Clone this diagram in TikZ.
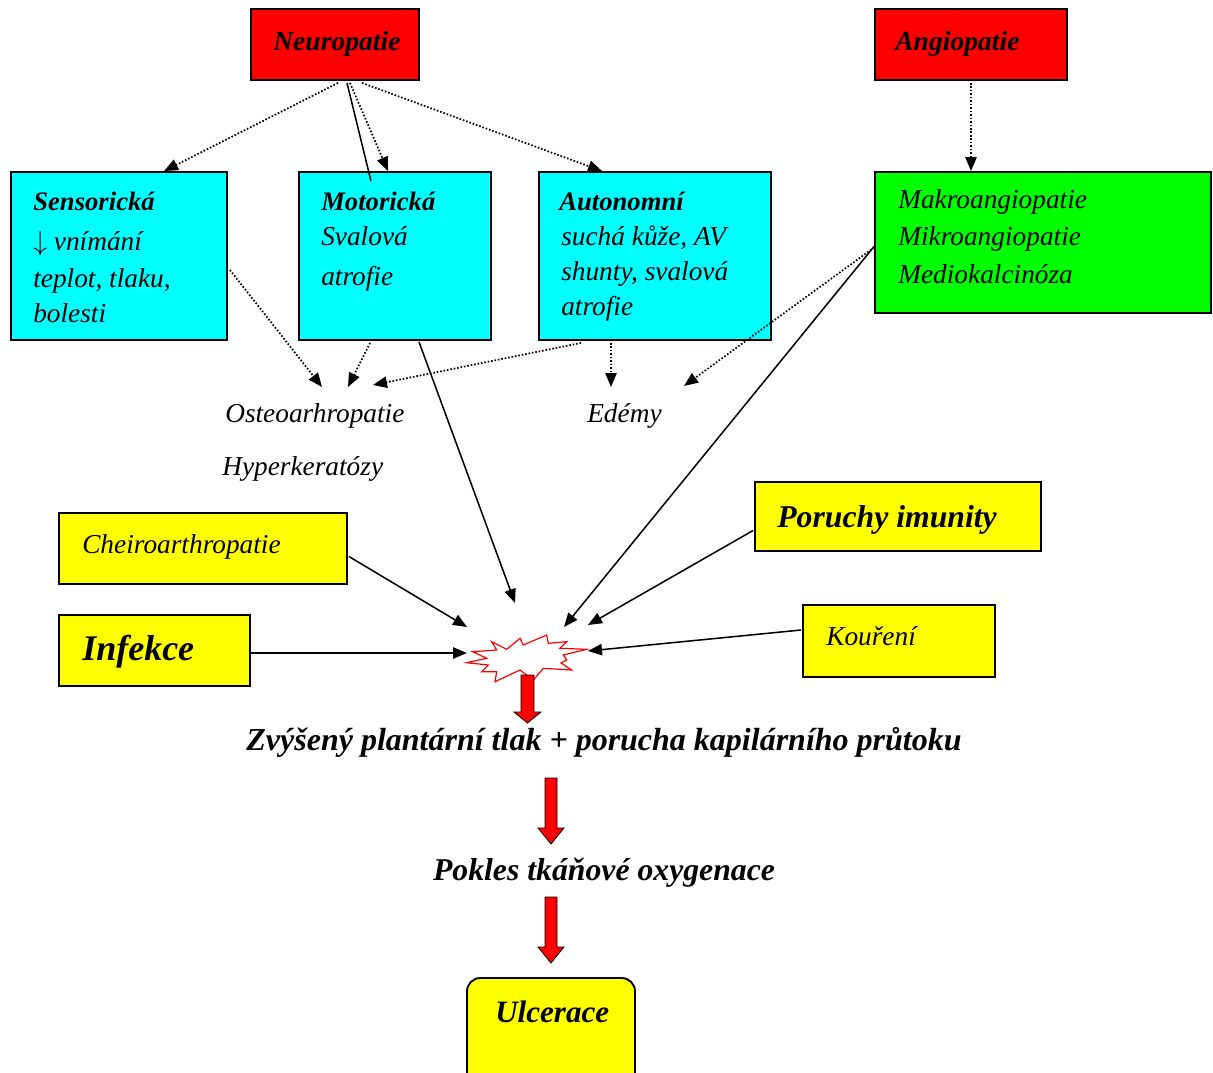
\documentclass[tikz,border=0pt]{standalone}
\usepackage{fontspec}
\setmainfont{Liberation Serif}
\usetikzlibrary{arrows.meta,fit,calc}
\definecolor{cRed}{RGB}{255,0,0}
\definecolor{cAqua}{RGB}{0,255,255}
\definecolor{cLime}{RGB}{0,255,0}
\definecolor{cYel}{RGB}{255,255,0}
\newcommand\bodyfont{\itshape\fontsize{20.5}{24}\selectfont}
\newcommand\headfont{\bfseries\itshape\fontsize{20}{24}\selectfont}
\begin{document}
\begin{tikzpicture}[x=0.75pt,y=-0.75pt,
  box/.style={draw=black,line width=1.4pt,inner sep=0pt},
  con/.style={line width=1.15pt,-{Triangle[length=10.5pt,width=8.5pt]}},
  dotcon/.style={con,line width=1.3pt,dash pattern=on 1.2pt off 1.4pt},
  plainline/.style={line width=1.15pt},
  txt/.style={anchor=base west,inner sep=0pt,font=\bodyfont},
  head/.style={anchor=base west,inner sep=0pt,font=\headfont},
  redarrow/.style={fill=cRed,draw=black,line width=0.6pt}]
\clip (0,0) rectangle (1213,1072);
\fill[white] (0,0) rectangle (1213,1072);

% boxes
\node[box,fill=cRed,fit={(251,9) (419,80)}] (neuro) {};
\node[box,fill=cRed,fit={(875,9) (1067,80)}] (angio) {};
\node[box,fill=cAqua,fit={(11,172) (227,340)}] (sens) {};
\node[box,fill=cAqua,fit={(299,172) (491,340)}] (motor) {};
\node[box,fill=cAqua,fit={(539,172) (771,340)}] (auton) {};
\node[box,fill=cLime,fit={(875,172) (1211,313)}] (green) {};
\node[box,fill=cYel,fit={(59,513) (347,584)}] (cheiro) {};
\node[box,fill=cYel,fit={(59,615) (250,686)}] (infekce) {};
\node[box,fill=cYel,fit={(755,482) (1041,551)}] (poruchy) {};
\node[box,fill=cYel,fit={(803,605) (995,677)}] (koureni) {};
\node[box,fill=cYel,rounded corners=10pt,fit={(467,978) (635,1090)}] (ulcer) {};

% texts
\node[head,font=\headfont\fontsize{20.7}{24}\selectfont] (tneuro) at (273,50) {Neuropatie};
\node[head,font=\headfont\fontsize{20.7}{24}\selectfont] (tangio) at (895,50) {Angiopatie};

\node[head] (ts1) at (33,210) {Sensorická};
\node[txt] (ts2) at (33,250) {$\downarrow$ vnímání};
\node[txt] (ts3) at (33,287) {teplot, tlaku,};
\node[txt] (ts4) at (33,322) {bolesti};

\node[head] (tm1) at (321,210) {Motorická};
\node[txt] (tm2) at (321,245) {Svalová};
\node[txt] (tm3) at (321,285) {atrofie};

\node[head] (ta1) at (559,210) {Autonomní};
\node[txt] (ta2) at (561,245) {suchá kůže, AV};
\node[txt] (ta3) at (561,280) {shunty, svalová};
\node[txt] (ta4) at (561,315) {atrofie};

\node[txt] (tg1) at (898,208) {Makroangiopatie};
\node[txt] (tg2) at (898,245) {Mikroangiopatie};
\node[txt] (tg3) at (898,283) {Mediokalcinóza};

\node[txt] (osteo) at (225,422) {Osteoarhropatie};
\node[txt] (hyper) at (222,475) {Hyperkeratózy};
\node[txt] (edemy) at (587,422) {Edémy};

\node[txt] (tcheiro) at (82,553) {Cheiroarthropatie};
\node[head,font=\headfont\fontsize{27}{30}\selectfont] (tinfekce) at (82,660) {Infekce};
\node[head,font=\headfont\fontsize{23.8}{26}\selectfont] (tporuchy) at (777,527) {Poruchy imunity};
\node[txt] (tkoureni) at (826,645) {Kouření};

\node[anchor=base,inner sep=0pt,font=\headfont\fontsize{24}{26}\selectfont] (zvys) at (604,750) {Zvýšený plantární tlak + porucha kapilárního průtoku};
\node[anchor=base,inner sep=0pt,font=\headfont\fontsize{23.8}{26}\selectfont] (pokles) at (604,880) {Pokles tkáňové oxygenace};
\node[head,font=\headfont\fontsize{23.3}{26}\selectfont] (tulcer) at (495,1022) {Ulcerace};

% burst
\draw[cRed,line width=0.9pt,fill=white] (491.7,641.7) -- (506.7,649.3) -- (520,638.3) -- (523.3,645) -- (546.7,635) -- (548.3,643.3) -- (566.7,641.7) -- (560,648.3) -- (586.7,649.3) -- (563.3,655) -- (566.7,660) -- (561,663) -- (571.7,670) -- (543.3,668.3) -- (533.3,680) -- (520,670) -- (495,681.7) -- (496.7,671.7) -- (481.7,671.7) -- (488.3,665) -- (466.7,662.7) -- (486.7,658.3) -- (472.7,651.7) -- (496.7,650) -- cycle;
\coordinate (burst) at (527,657);
\coordinate (pm) at (515,603);
\coordinate (pg) at (564,627);
\coordinate (pc) at (467,627);
\coordinate (pp) at (588,625);
\coordinate (pi) at (467,653);
\coordinate (pk) at (588,651);
\coordinate (pos1) at (322,387);
\coordinate (pos2) at (348,387);
\coordinate (pos3) at (373,385);
\coordinate (ped1) at (611,387);
\coordinate (ped2) at (684,386);

% connectors from Neuropatie / Angiopatie
\draw[dotcon] ($(neuro.south)+(3,2)$) -- ($(sens.north)+(45,0)$);
\draw[plainline] ($(neuro.south)+(12,2)$) -- ($(motor.north)+(-24,10)$);
\draw[dotcon] ($(neuro.south)+(15,2)$) -- ($(motor.north)+(-7,0)$);
\draw[dotcon] ($(neuro.south)+(27,2)$) -- ($(auton.north)+(-53,0)$);
\draw[dotcon] ($(angio.south)+(0,2)$) -- (green.north -| angio.south);

% to Osteoarhropatie / Edemy
\draw[dotcon] ($(sens.east)+(2,14)$) -- (pos1);
\draw[dotcon] ($(motor.south)+(-25,2)$) -- (pos2);
\draw[dotcon] ($(auton.south)+(-74,2)$) -- (pos3);
\draw[dotcon] ($(auton.south)+(-44,2)$) -- (ped1);
\draw[dotcon] ($(green.west)+(0,5)$) -- (ped2);

% to burst
\draw[con] ($(motor.south)+(24,1)$) -- (pm);
\draw[con] ($(green.west)+(0,4)$) -- (pg);
\draw[con] ($(cheiro.east)+(1,8)$) -- (pc);
\draw[con] ($(poruchy.west)+(-1,14)$) -- (pp);
\draw[con] ($(infekce.east)+(0,2.5)$) -- (pi);
\draw[con] ($(koureni.west)+(-1,-11)$) -- (pk);

% red block arrows
\filldraw[redarrow] (521,675) -- (534,675) -- (534,712) -- (541,712) -- (527.5,723) -- (514,712) -- (521,712) -- cycle;
\filldraw[redarrow] (545,778) -- (557,778) -- (557,828) -- (564,828) -- (551,844) -- (538,828) -- (545,828) -- cycle;
\filldraw[redarrow] (545,897) -- (557,897) -- (557,947) -- (564,947) -- (551,963) -- (538,947) -- (545,947) -- cycle;
\end{tikzpicture}
\end{document}
